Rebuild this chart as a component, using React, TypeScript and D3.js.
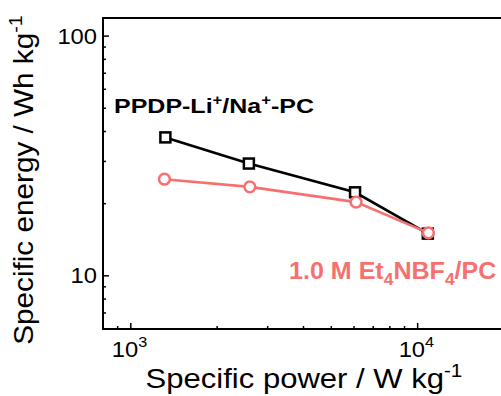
import React from "react";
import * as d3 from "d3";

const powerPPDP = [1320, 2580, 6050, 10850];
const energyPPDP = [37.8, 29.4, 22.3, 15.0];
const powerEt = [1310, 2600, 6100, 10900];
const energyEt = [25.3, 23.5, 20.3, 15.1];
const xMajor = [1000, 10000];
const xMajorExp = ["3", "4"];
const yMajor = [10, 100];
const xMinor = [900, 2000, 3000, 4000, 5000, 6000, 7000, 8000, 9000];
const yMinor = [7, 8, 9, 20, 30, 40, 50, 60, 70, 80, 90];

const W = 501;
const H = 396;
const FONT = "Liberation Sans, Arial, Helvetica, sans-serif";
const RED = "#f77070";

function Stretch({ x, y, sx, rotate, children }: { x: number; y: number; sx: number; rotate?: number; children: React.ReactNode }) {
  const rot = rotate ? ` rotate(${rotate})` : "";
  return <g transform={`translate(${x},${y})${rot} scale(${sx},1)`}>{children}</g>;
}

export default function App() {
  const x = d3.scaleLog().domain([800, 20000]).range([103, 504]);
  const y = d3.scaleLog().domain([6, 119]).range([329, 18]);
  const line = d3
    .line<[number, number]>()
    .x((d) => x(d[0]))
    .y((d) => y(d[1]));
  const ppdp = powerPPDP.map((p, i) => [p, energyPPDP[i]] as [number, number]);
  const et = powerEt.map((p, i) => [p, energyEt[i]] as [number, number]);
  const x0 = x.range()[0];
  const y0 = y.range()[0];
  const yTop = y.range()[1];

  return (
    <svg
      width={W}
      height={H}
      style={{ position: "absolute", left: 0, top: 0, background: "#fff" }}
      fontFamily={FONT}
    >
      <rect width={W} height={H} fill="#fff" />
      {/* frame */}
      <path
        d={`M${x.range()[1]},${yTop}H${x0}V${y0}H${x.range()[1]}`}
        fill="none"
        stroke="#000"
        strokeWidth={2}
      />
      {/* ticks */}
      {xMajor.map((v) => (
        <line key={"xm" + v} x1={x(v)} x2={x(v)} y1={y0} y2={y0 - 6} stroke="#000" strokeWidth={1.5} />
      ))}
      {xMinor.map((v) => (
        <line key={"xn" + v} x1={x(v)} x2={x(v)} y1={y0} y2={y0 - 3} stroke="#000" strokeWidth={1.5} />
      ))}
      {yMajor.map((v) => (
        <line key={"ym" + v} x1={x0} x2={x0 + 6} y1={y(v)} y2={y(v)} stroke="#000" strokeWidth={1.5} />
      ))}
      {yMinor.map((v) => (
        <line key={"yn" + v} x1={x0} x2={x0 + 3} y1={y(v)} y2={y(v)} stroke="#000" strokeWidth={1.5} />
      ))}
      {/* tick labels */}
      {xMajor.map((v, i) => (
        <Stretch key={"xl" + v} x={x(v) - 19} y={357} sx={1.08}>
          <text fontSize={22} fill="#000">
            10
            <tspan dy={-10} fontSize={15}>
              {xMajorExp[i]}
            </tspan>
          </text>
        </Stretch>
      ))}
      {yMajor.map((v) => (
        <Stretch key={"yl" + v} x={97} y={y(v) + 7.5} sx={1.08}>
          <text fontSize={22} textAnchor="end" fill="#000">
            {String(v)}
          </text>
        </Stretch>
      ))}
      {/* series */}
      <path d={line(ppdp) || ""} fill="none" stroke="#000" strokeWidth={2.6} />
      {ppdp.map((d, i) => (
        <rect
          key={"s" + i}
          x={x(d[0]) - 5}
          y={y(d[1]) - 5}
          width={10}
          height={10}
          fill="#fff"
          stroke="#000"
          strokeWidth={2.5}
        />
      ))}
      <path d={line(et) || ""} fill="none" stroke={RED} strokeWidth={2.6} />
      {et.map((d, i) => (
        <circle key={"c" + i} cx={x(d[0])} cy={y(d[1])} r={5.4} fill="#fff" stroke={RED} strokeWidth={2.5} />
      ))}
      {/* legends */}
      <Stretch x={114} y={113} sx={1.19}>
        <text fontSize={21} fontWeight="bold" fill="#000">
          PPDP-Li
          <tspan dy={-8} fontSize={14}>+</tspan>
          <tspan dy={8}>/Na</tspan>
          <tspan dy={-8} fontSize={14}>+</tspan>
          <tspan dy={8}>-PC</tspan>
        </text>
      </Stretch>
      <Stretch x={289} y={279} sx={1.09}>
        <text fontSize={23} fontWeight="bold" fill={RED}>
          1.0 M Et
          <tspan dy={6} fontSize={16}>4</tspan>
          <tspan dy={-6}>NBF</tspan>
          <tspan dy={6} fontSize={16}>4</tspan>
          <tspan dy={-6}>/PC</tspan>
        </text>
      </Stretch>
      {/* axis titles */}
      <Stretch x={304} y={388} sx={1.15}>
        <text fontSize={27} textAnchor="middle" fill="#000">
          Specific power / W kg
          <tspan dy={-11} fontSize={18}>-1</tspan>
        </text>
      </Stretch>
      <Stretch x={33} y={180} sx={1.1} rotate={-90}>
        <text fontSize={27} textAnchor="middle" fill="#000">
          Specific energy / Wh kg
          <tspan dy={-11} fontSize={18}>-1</tspan>
        </text>
      </Stretch>
    </svg>
  );
}
